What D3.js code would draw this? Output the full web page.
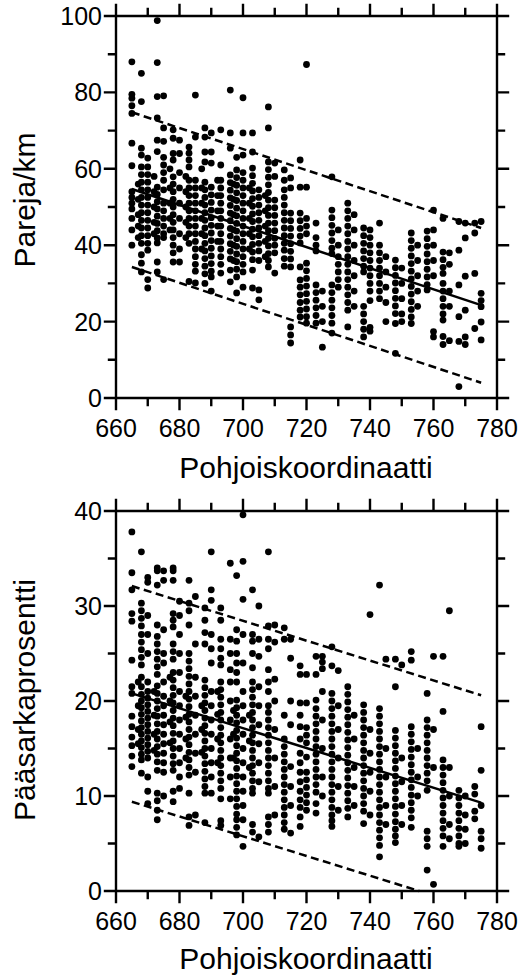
<!DOCTYPE html>
<html><head><meta charset="utf-8">
<script src="https://cdn.jsdelivr.net/npm/d3@7"></script>
<style>body{margin:0;background:#fff}svg{display:block}</style>
</head><body>
<svg id="c" width="520" height="977"></svg>
<script>
// ---------- data ----------
const xTicks = [660, 680, 700, 720, 740, 760, 780];
const xMinor = [670, 690, 710, 730, 750, 770];
const topYTicks = [0, 20, 40, 60, 80, 100];
const topYMinor = [10, 30, 50, 70, 90];
const botYTicks = [0, 10, 20, 30, 40];
const botYMinor = [5, 15, 25, 35];
const xTitle = "Pohjoiskoordinaatti";
const topYTitle = "Pareja/km";
const botYTitle = "Pääsarkaprosentti";

// top panel: north coordinate of each column, pairs/km values in that column
const northTop = [665, 667, 668, 670, 672, 673, 675, 677, 678, 680, 682, 683, 685, 687, 688, 690, 692, 693, 696, 697, 698, 700, 702, 703, 705, 707, 708, 710, 713, 715, 718, 720, 723, 725, 728, 730, 733, 735, 738, 740, 743, 745, 748, 750, 753, 755, 758, 760, 763, 765, 768, 770, 773, 775];
const pairsTop = [
  [88, 79.5, 78.5, 76.5, 74.5, 66.7, 60.8, 54, 52.5, 51, 49.5, 47, 44, 40],
  [56, 52, 48, 45, 42],
  [85, 77.6, 65.4, 63.6, 60.5, 58.5, 56.5, 54.5, 52.5, 50.5, 48.5, 46.5, 44.5, 42.5, 40.5, 37.5, 35.3, 33],
  [62.8, 60.5, 58.5, 56.5, 54.5, 52.5, 50.5, 48.5, 46.5, 44.5, 42.5, 40.5, 38.7, 31, 28.8],
  [58, 54, 50, 46, 43],
  [98.8, 87.8, 78.9, 73.3, 67.5, 64.5, 55.2, 53.3, 51.4, 49.5, 47.6, 45.7, 43.8, 41.9, 40.6, 35.6, 33],
  [79.1, 70.7, 67.2, 63, 61, 59, 57, 54.5, 51, 49, 47, 45, 43, 42, 31],
  [60, 55, 51, 47, 44],
  [70.2, 68, 64, 62.3, 57.9, 56, 54, 52, 50, 48, 46, 44, 42, 40, 38, 35.6],
  [67.5, 64, 59, 55, 51, 47, 43, 39, 35.6],
  [58, 54, 50, 46, 42],
  [65.7, 64.1, 62.3, 60.5, 57, 55, 53, 51, 49, 47, 45, 43, 40.5, 30.5],
  [79.3, 68.3, 57, 55, 53, 51, 49, 47, 45, 43, 41, 39, 37, 35, 33.2, 30.1],
  [60, 55, 51, 47, 43, 39],
  [70.7, 68.3, 64.4, 61.8, 56.5, 54.5, 52.5, 50.5, 48.5, 46.5, 44.5, 42.5, 40.5, 38.5, 36.5, 34.5, 32.5, 30],
  [69.4, 64.4, 61.5, 55.2, 53.2, 51.2, 49.2, 47.2, 45.2, 43.2, 41.2, 39.2, 37.2, 35.2, 33.2, 31.7, 28],
  [57, 53, 49, 45, 41],
  [70.2, 61, 57, 55, 53, 51, 49, 47, 45, 43, 41, 39, 37, 35, 32.7],
  [80.6, 69.4, 65.4, 58.4, 56.4, 54.4, 52.4, 50.4, 48.4, 46.4, 44.4, 42.4, 40.4, 38.4, 36.4, 33.5, 30.4],
  [56, 52, 48, 44, 40, 36],
  [63, 59.7, 57.7, 55.7, 53.7, 51.7, 49.7, 47.7, 45.7, 43.7, 41.7, 39.7, 37.7, 35.7, 33.7, 31.7, 27.5],
  [78.6, 69.4, 63.6, 59, 57, 55, 53, 51, 49, 47, 45, 43, 41, 39, 37, 35, 33, 29],
  [55, 51, 47, 43, 39],
  [69.4, 64.4, 60.2, 58.2, 56.2, 54.2, 52.2, 50.2, 48.2, 46.2, 44.2, 42.2, 40.2, 38.2, 36.2, 33.5, 28.8],
  [54.5, 52.5, 50.5, 48.5, 46.5, 44.5, 42.5, 40.5, 38.5, 36, 28.3, 25.7],
  [53, 49, 45, 41, 37],
  [76.2, 70.7, 61.8, 59.8, 57.8, 55.8, 53.8, 51.8, 49.8, 47.8, 45.8, 43.8, 41.8, 39.8, 37.8, 36, 34.3],
  [61.5, 58, 51.8, 49.8, 47.8, 45.8, 43.8, 41.8, 40, 38, 32.7],
  [59.7, 57, 54.5, 52.5, 50.5, 48.5, 46.5, 44.5, 42.5, 40.5, 38.7, 36.5, 34.5],
  [57.6, 55, 48.4, 46.4, 44.4, 42.4, 40.4, 38.4, 36.4, 34.3, 18.6, 16.5, 14.4],
  [62.3, 55.2, 48.4, 46.4, 44.4, 42.4, 40.6, 34.3, 30.9, 29, 27, 25, 23, 21.2],
  [87.3, 55.2, 47, 45, 43, 35.3, 33.3, 31.3, 29.3, 27.3, 25.3, 23.3, 21.3, 19.6],
  [45.8, 42, 40, 38.5, 29.6, 27.6, 25.6, 23.6, 21.6, 19.6],
  [28, 24, 20, 13.3],
  [57.9, 49.2, 47.2, 45.2, 43.2, 41.2, 39.2, 37.8, 29.6, 27.6, 25.6, 23.6, 21.6, 19.6, 17],
  [44, 40, 37, 35, 33, 31, 29],
  [51, 49, 47, 45, 43, 41, 39, 37, 35, 33, 31, 29, 27, 25, 23, 18.6],
  [48, 44, 40, 36, 32, 28, 24],
  [44.5, 42.5, 40.5, 38.5, 36.5, 34.5, 33, 24, 22, 20, 18, 16],
  [44, 42, 40, 38, 36, 34, 32, 30, 28, 25.5, 18.5, 17.5],
  [45.8, 40, 38, 36, 34, 32, 30, 28, 26],
  [37, 33, 29, 25, 20],
  [36.1, 34.1, 32.1, 30.1, 28.1, 26.1, 24.1, 22.1, 19.5, 11.7],
  [34, 30, 26, 22, 20],
  [43.2, 41.2, 39.2, 37.2, 35.2, 33.2, 31.2, 29.2, 27.2, 25.2, 23.2, 21.2, 19.5],
  [40, 36, 32, 28, 24],
  [43.7, 41.7, 39.7, 37.7, 35.7, 33.7, 31.7, 29.7, 28.3],
  [49.2, 44, 40, 36, 32, 17.4, 16],
  [47, 38.2, 36.2, 34.2, 32.6, 30, 28, 26, 24, 22, 20.4, 16.1, 14],
  [38, 35, 28, 24, 15],
  [46.2, 38.7, 29.6, 21.3, 14.8, 3],
  [45.8, 41.9, 31.9, 23, 16, 14],
  [45.8, 43.2, 32.6, 18.2],
  [46.2, 27.4, 25.5, 23.9, 19.9, 15.2]
];

// bottom panel: north coordinate of each column, percentage values in that column
const northBottom = [665, 667, 668, 670, 672, 673, 675, 677, 678, 680, 682, 683, 685, 687, 688, 690, 692, 693, 696, 697, 698, 700, 702, 703, 705, 708, 710, 713, 715, 718, 720, 723, 725, 728, 730, 733, 735, 738, 740, 743, 745, 748, 750, 753, 755, 758, 760, 763, 765, 768, 770, 773, 775];
const pctBottom = [
  [37.8, 33.5, 31.7, 29.2, 28.4, 24.3, 21.5, 20.8, 18.4, 17.3, 16.2, 15.3, 14.2, 13.1],
  [22, 19.5, 17, 15.5],
  [35.7, 30.3, 29.5, 28.7, 27.9, 27, 26.2, 25.4, 24.6, 23.8, 22.5, 21.5, 20.7, 20, 19.3, 18.6, 17.9, 17.2, 16.5, 15.8, 15.1, 14.4, 13.8, 12.4],
  [33, 32.5, 29, 27, 25, 22, 21, 20.3, 19.6, 18.9, 18.2, 17.5, 16.8, 16.1, 15.4, 14.7, 14, 12, 10.5, 9.2],
  [21, 18.5, 16.5, 14.8],
  [34, 33.7, 32.2, 28, 26.8, 26, 25.2, 24.4, 23.6, 22.8, 21.6, 20.8, 20, 19.2, 18.4, 17.6, 16.8, 16, 15.2, 14.4, 13.6, 12.7, 10.3, 9.5, 8.5, 7.5],
  [33.7, 32.7, 27.5, 25, 24, 22, 20.5, 19.5, 18.5, 17.5, 16.5, 15.5, 14.5, 13.5, 12.5, 10],
  [22.5, 20, 17.8, 15.6],
  [34, 33.7, 32.7, 29.2, 28.5, 27.8, 26, 25.2, 24.4, 23, 22.2, 21.4, 20.6, 19.8, 19, 18.2, 17.4, 16.6, 15.8, 15, 14.2, 13.4, 12.7, 10.5, 9.4],
  [30.5, 29, 27, 25, 23, 21, 19.5, 18, 16.5, 15, 13.5, 12, 10.8],
  [20.5, 18.3, 16, 14],
  [32.7, 30.3, 29.5, 28, 25, 24.2, 23.4, 22.6, 21.8, 21, 20.2, 19.4, 18.6, 17.8, 17, 16.2, 15.4, 14.6, 13.8, 13, 12.2, 10.3, 7.8, 6.9],
  [31, 26, 22.5, 20.5, 18.5, 16.5, 14.5, 12.5, 8],
  [19.5, 17, 14.6],
  [29.8, 28.5, 27.2, 26, 22.2, 21.4, 20.6, 19.8, 19, 18.2, 17.4, 16.6, 15.8, 15, 14.2, 13.4, 12.6, 11.8, 11, 10.3, 7.2],
  [35.7, 31.7, 30.6, 27, 25.5, 24, 21, 19.5, 18, 16.5, 15, 13.5, 12, 10.3],
  [21, 18.6, 16, 13.5],
  [29.8, 28.5, 26.5, 25.5, 24.5, 23.8, 22, 21.2, 20.4, 19.6, 18.8, 18, 17.2, 16.4, 15.6, 14.8, 14, 13.2, 12.4, 11.6, 10.8, 9.7, 7.4, 6.9],
  [34.5, 26.5, 25, 23.3, 22, 20, 18, 16, 14, 12, 9.7],
  [19, 16.5, 14],
  [33.2, 27.5, 26.3, 25, 24, 23, 22, 20.1, 19.3, 18.5, 17.7, 16.9, 16.1, 15.3, 14.5, 13.7, 12.9, 12.1, 11.3, 10.5, 9.7, 8.9, 8.1, 7.5, 6.7, 5.9],
  [39.6, 34.7, 30.7, 27, 24, 21, 19.5, 18, 16.5, 15, 13.5, 12, 10.5, 9, 7.5, 4.7],
  [18.5, 15.8, 13],
  [31.7, 27, 26.3, 25, 23.5, 22, 21.2, 20.4, 19.6, 18.8, 18, 17.2, 16.4, 15.6, 14.8, 14, 13.2, 12.4, 11.6, 10.8, 10.3, 7, 6.2],
  [30, 26.5, 24.7, 21.5, 19.5, 17.5, 15.5, 13.5, 11.5, 5.7],
  [35.7, 27.9, 26.5, 25.5, 23.3, 22, 21, 19.5, 18.8, 18, 17.2, 16.4, 15.6, 14.8, 14, 13.2, 12.4, 11.6, 10.8, 10.3, 7.8, 7, 6.2],
  [28, 26.2, 22.3, 20, 17, 14, 11, 8],
  [27.7, 26.5, 18.5, 16, 15.2, 14.4, 13.6, 12.8, 12, 11.2, 10.4, 9.6, 8.8, 8, 7.2, 6.5],
  [26.5, 24.5, 20, 17.5, 13.1, 11, 9, 6.1],
  [23.7, 22.8, 19.8, 18.5, 17.3, 16, 14.5, 13.5, 12.5, 11.5, 10.5, 9.6, 8.8, 7.8, 6.8],
  [22.8, 19.8, 17.2, 16.4, 15.6, 14.1, 12.5, 11.7, 10.9, 10.1, 9.3, 8.5],
  [24.7, 22.8, 20.1, 19.2, 18.4, 17.6, 16.8, 16, 15.2, 14.4, 13.6, 12.8, 12, 11.2, 10.4, 9.2, 8.2],
  [24.7, 24.1, 23.4, 21, 18, 15, 12, 10],
  [25.7, 23.7, 20.8, 20, 19.2, 18.4, 17.6, 16.8, 16, 15.2, 14.4, 13.6, 12.8, 12, 11.2, 10.4, 9.6, 8.8, 8, 7.4, 6.8],
  [23.2, 19.5, 17, 14, 11, 8.5],
  [21.5, 20.7, 19.9, 19.1, 18.3, 17.5, 16.7, 15.9, 15.1, 14.3, 13.5, 12.7, 11.9, 11.1, 10.3, 9.5, 8.7, 7.8],
  [18.5, 16, 13, 11, 9],
  [19.6, 18.8, 18, 17.2, 16.4, 15.6, 14.8, 14, 13.2, 12.4, 11.6, 10.8, 10, 9.2, 8.4, 7.1],
  [29.1, 17, 14.5, 12.5, 10.5, 8],
  [32.2, 19.2, 18.4, 17.6, 16.8, 16, 15.2, 14.4, 13.6, 12.8, 12, 11.2, 10.4, 9.6, 8.8, 8, 7.2, 6.4, 5.6, 4.8, 3.6],
  [24.4, 15, 12, 9, 7],
  [24.4, 21.5, 16.9, 16.1, 15.3, 14.5, 13.7, 12.9, 12.1, 11.3, 10.5, 9.7, 8.9, 8.1, 7.3, 6.5, 5.8, 5.1],
  [23.8, 14, 11.5, 9, 7],
  [25.2, 24.3, 17.3, 16.5, 15.7, 14.9, 14.1, 13.3, 12.5, 11.7, 10.9, 10.1, 9.3, 8.5, 7.7, 6.7],
  [15, 12, 10],
  [20.8, 18, 17.2, 16.4, 15.6, 14.8, 14, 13.2, 12.4, 11.6, 10.6, 6.3, 5.5, 4.7, 2.2],
  [24.7, 17, 13, 0.7],
  [24.7, 18.9, 13.8, 13, 12.2, 11.4, 10.6, 9.8, 9, 8.2, 7.4, 6.6, 5.8, 4.7],
  [29.5, 13, 10, 7, 5.5],
  [10.6, 9.8, 9, 8.2, 7.4, 6.6, 5.8, 5, 4.7],
  [10, 8, 6.5, 5],
  [11, 10.2, 8.4, 7.6],
  [17.3, 12.7, 9, 6.3, 5.5, 4.5]
];

// regression line and prediction bands (end points)
const topLineX = [665, 775];
const topMid = [54.7, 24.3];
const topUpper = [74.8, 44.5];
const topLower = [34.3, 4.0];
const botLineX = [665, 775];
const botMid = [20.8, 9.3];
const botUpper = [32.1, 20.6];
const botLowerX = [665, 755.5];
const botLower = [9.4, 0];

// ---------- drawing ----------
const svg = d3.select("#c");
const FONT = "'Liberation Sans', Arial, sans-serif";
const MAJ = 11, MIN = 7, W = 2.4, H = W / 2;

// clockwise rectangle sub-path
function rectCW(p, x, y, w, h) { p.moveTo(x, y); p.lineTo(x + w, y); p.lineTo(x + w, y + h); p.lineTo(x, y + h); p.closePath(); }
// counter-clockwise rectangle sub-path (hole)
function rectCCW(p, x, y, w, h) { p.moveTo(x, y); p.lineTo(x, y + h); p.lineTo(x + w, y + h); p.lineTo(x + w, y); p.closePath(); }

function panel(o) {
  const x = d3.scaleLinear().domain([660, 780]).range([116, 497]);
  const y = d3.scaleLinear().domain(o.yDomain).range([o.bottom, o.top]);
  const g = svg.append("g");
  const [x0, x1] = x.range();
  const [yb, yt] = y.range();

  // frame ring plus outward ticks as one filled shape
  const p = d3.path();
  rectCW(p, x0 - H, yt - H, x1 - x0 + W, yb - yt + W);
  rectCCW(p, x0 + H, yt + H, x1 - x0 - W, yb - yt - W);
  xTicks.map(v => [v, MAJ]).concat(xMinor.map(v => [v, MIN])).forEach(([v, L]) => {
    rectCW(p, x(v) - H, yb, W, L + H);
    rectCW(p, x(v) - H, yt - L - H, W, L + H);
  });
  o.yTicks.map(v => [v, MAJ]).concat(o.yMinor.map(v => [v, MIN])).forEach(([v, L]) => {
    rectCW(p, x0 - L - H, y(v) - H, L + H, W);
    rectCW(p, x1, y(v) - H, L + H, W);
  });
  g.append("path").attr("d", p.toString()).attr("fill", "#000").attr("fill-rule", "nonzero");

  // points
  const pts = [];
  o.north.forEach((n, i) => o.vals[i].forEach(v => pts.push([n, v])));
  g.append("g").selectAll("circle").data(pts).join("circle")
    .attr("cx", d => x(d[0])).attr("cy", d => y(d[1])).attr("r", 3.4).attr("fill", "#000");

  // regression line and bands
  const lineGen = d3.line().x(d => x(d[0])).y(d => y(d[1]));
  const seg = (xs, ys) => xs.map((v, i) => [v, ys[i]]);
  g.append("path").attr("d", lineGen(seg(o.lineX, o.mid))).attr("stroke", "#000").attr("stroke-width", 2.5).attr("fill", "none");
  g.append("path").attr("d", lineGen(seg(o.lineX, o.upper))).attr("stroke", "#000").attr("stroke-width", 2.5).attr("stroke-dasharray", "8,4.5").attr("fill", "none");
  g.append("path").attr("d", lineGen(seg(o.lowerX, o.lower))).attr("stroke", "#000").attr("stroke-width", 2.5).attr("stroke-dasharray", "8,4.5").attr("fill", "none");

  // tick labels
  g.append("g").selectAll("text").data(xTicks).join("text")
    .attr("x", d => x(d)).attr("y", yb + 39).attr("text-anchor", "middle")
    .attr("font-family", FONT).attr("font-size", 25).attr("fill", "#000").text(d3.format("d"));
  g.append("g").selectAll("text").data(o.yTicks).join("text")
    .attr("x", x0 - 14).attr("y", d => y(d) + 9).attr("text-anchor", "end")
    .attr("font-family", FONT).attr("font-size", 25).attr("fill", "#000").text(d3.format("d"));

  // titles
  g.append("text").attr("x", 306).attr("y", o.xTitleY).attr("text-anchor", "middle")
    .attr("font-family", FONT).attr("font-size", 30).text(xTitle);
  g.append("text").attr("transform", `translate(${o.yTitleX},${o.yTitleMid}) rotate(-90)`)
    .attr("text-anchor", "middle").attr("font-family", FONT).attr("font-size", 30).text(o.yTitle);
}

panel({yDomain: [0, 100], top: 16, bottom: 398, yTicks: topYTicks, yMinor: topYMinor,
  north: northTop, vals: pairsTop, lineX: topLineX, mid: topMid, upper: topUpper, lowerX: topLineX, lower: topLower,
  xTitleY: 478, yTitle: topYTitle, yTitleX: 35, yTitleMid: 200});
panel({yDomain: [0, 40], top: 511, bottom: 891, yTicks: botYTicks, yMinor: botYMinor,
  north: northBottom, vals: pctBottom, lineX: botLineX, mid: botMid, upper: botUpper, lowerX: botLowerX, lower: botLower,
  xTitleY: 969, yTitle: botYTitle, yTitleX: 35, yTitleMid: 700});
</script>
</body></html>
